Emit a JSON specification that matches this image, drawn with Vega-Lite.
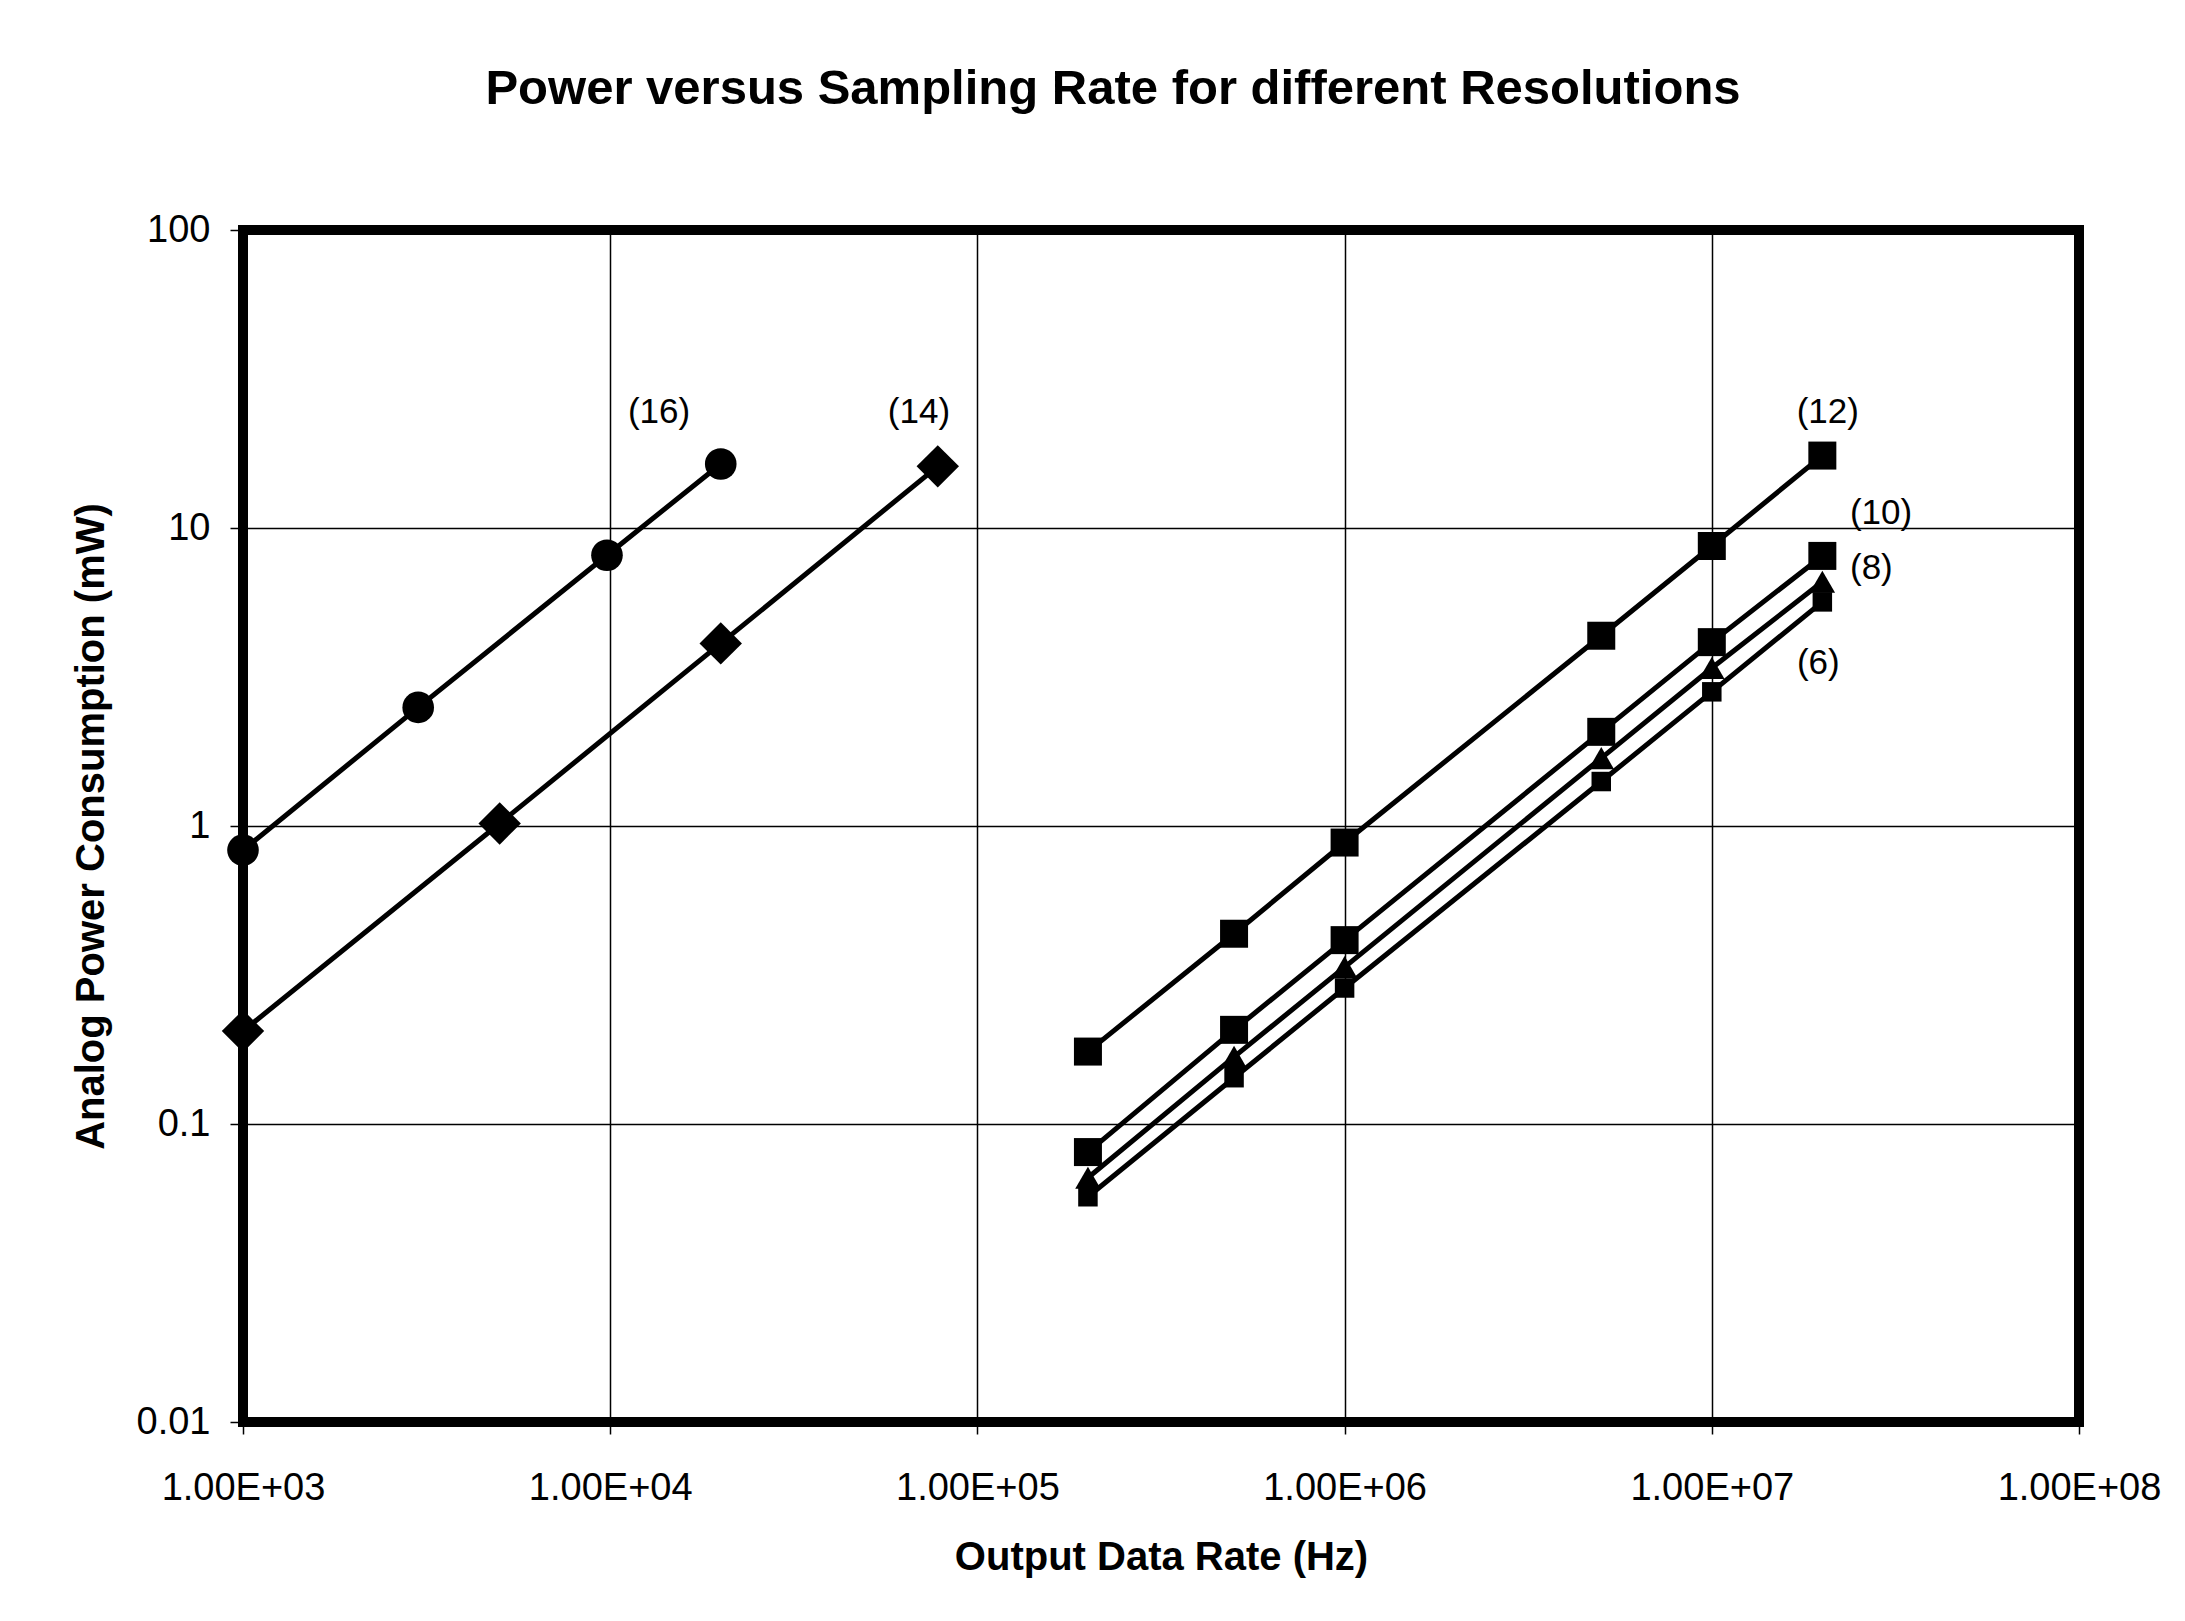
{
  "$schema": "https://vega.github.io/schema/vega-lite/v6.json",
  "width": 1836,
  "height": 1192,
  "autosize": {"type": "none"},
  "padding": {"left": 243, "top": 230, "right": 106, "bottom": 199},
  "background": "white",
  "title": {
    "text": "Power versus Sampling Rate for different Resolutions",
    "font": "Liberation Sans",
    "fontSize": 49,
    "fontWeight": "bold",
    "color": "black",
    "anchor": "middle",
    "frame": "group",
    "baseline": "alphabetic",
    "dx": -48,
    "offset": 58
  },
  "config": {
    "view": {"stroke": "black", "strokeWidth": 10},
    "axis": {
      "domain": false,
      "grid": true,
      "gridColor": "black",
      "gridOpacity": 1,
      "gridWidth": 1.5,
      "tickColor": "black",
      "tickWidth": 1.5,
      "labelFont": "Liberation Sans",
      "labelColor": "black",
      "labelFontSize": 38,
      "labelOverlap": false,
      "labelFlush": false,
      "titleFont": "Liberation Sans",
      "titleFontSize": 40,
      "titleFontWeight": "bold",
      "titleColor": "black"
    }
  },
  "datasets": {
    "pts": [
      {"res": "16", "f": 1000, "p": 0.83},
      {"res": "16", "f": 3000, "p": 2.5},
      {"res": "16", "f": 9800, "p": 8.1},
      {"res": "16", "f": 20000, "p": 16.4},
      {"res": "14", "f": 1000, "p": 0.205},
      {"res": "14", "f": 5000, "p": 1.02},
      {"res": "14", "f": 20000, "p": 4.1},
      {"res": "14", "f": 78000, "p": 16.1},
      {"res": "12", "f": 200000, "p": 0.175},
      {"res": "12", "f": 500000, "p": 0.435},
      {"res": "12", "f": 1000000, "p": 0.88},
      {"res": "12", "f": 5000000, "p": 4.35},
      {"res": "12", "f": 10000000, "p": 8.7},
      {"res": "12", "f": 20000000, "p": 17.5},
      {"res": "10", "f": 200000, "p": 0.0805},
      {"res": "10", "f": 500000, "p": 0.207},
      {"res": "10", "f": 1000000, "p": 0.414},
      {"res": "10", "f": 5000000, "p": 2.07},
      {"res": "10", "f": 10000000, "p": 4.14},
      {"res": "10", "f": 20000000, "p": 8.06},
      {"res": "8", "f": 200000, "p": 0.066},
      {"res": "8", "f": 500000, "p": 0.168},
      {"res": "8", "f": 1000000, "p": 0.336},
      {"res": "8", "f": 5000000, "p": 1.69},
      {"res": "8", "f": 10000000, "p": 3.39},
      {"res": "8", "f": 20000000, "p": 6.6},
      {"res": "6", "f": 200000, "p": 0.057},
      {"res": "6", "f": 500000, "p": 0.143},
      {"res": "6", "f": 1000000, "p": 0.286},
      {"res": "6", "f": 5000000, "p": 1.41},
      {"res": "6", "f": 10000000, "p": 2.82},
      {"res": "6", "f": 20000000, "p": 5.65}
    ],
    "labels": [
      {"label": "(16)", "f": 13580, "p": 24.5},
      {"label": "(14)", "f": 69300, "p": 24.5},
      {"label": "(12)", "f": 20700000, "p": 24.5},
      {"label": "(10)", "f": 28900000, "p": 11.2},
      {"label": "(8)", "f": 27200000, "p": 7.35},
      {"label": "(6)", "f": 19500000, "p": 3.52}
    ]
  },
  "encoding": {
    "x": {
      "field": "f",
      "type": "quantitative",
      "scale": {"type": "log", "domain": [1000, 100000000]},
      "axis": {
        "values": [1000, 10000, 100000, 1000000, 10000000, 100000000],
        "labelExpr": "'1.00E+0' + round(log(datum.value) / LN10)",
        "tickSize": 12,
        "labelPadding": 35,
        "title": "Output Data Rate (Hz)",
        "titlePadding": 30
      }
    },
    "y": {
      "field": "p",
      "type": "quantitative",
      "scale": {"type": "log", "domain": [0.01, 100]},
      "axis": {
        "values": [0.01, 0.1, 1, 10, 100],
        "format": "~g",
        "tickSize": 13,
        "labelPadding": 20,
        "title": "Analog Power Consumption (mW)",
        "titlePadding": 25
      }
    }
  },
  "layer": [
    {
      "data": {"name": "pts"},
      "mark": {"type": "line", "stroke": "black", "strokeWidth": 5},
      "encoding": {"detail": {"field": "res", "type": "nominal"}}
    },
    {
      "data": {"name": "pts"},
      "mark": {"type": "point", "filled": true, "color": "black", "opacity": 1, "strokeWidth": 0},
      "encoding": {
        "shape": {
          "field": "res",
          "type": "nominal",
          "scale": {"domain": ["16", "14", "12", "10", "8", "6"], "range": ["circle", "diamond", "square", "square", "triangle-up", "square"]},
          "legend": null
        },
        "size": {
          "field": "res",
          "type": "nominal",
          "scale": {"type": "ordinal", "domain": ["16", "14", "12", "10", "8", "6"], "range": [1000, 1800, 784, 784, 650, 380]},
          "legend": null
        }
      }
    },
    {
      "data": {"name": "labels"},
      "mark": {"type": "text", "font": "Liberation Sans", "fontSize": 35, "baseline": "middle", "align": "center", "color": "black"},
      "encoding": {"text": {"field": "label", "type": "nominal"}}
    }
  ]
}
